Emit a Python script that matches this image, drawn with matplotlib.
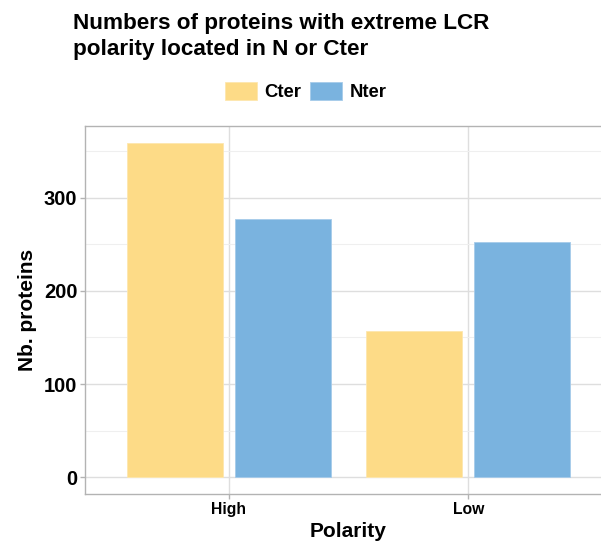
import matplotlib
matplotlib.use("Agg")
import matplotlib.pyplot as plt
from matplotlib.patches import Patch
import numpy as np

categories = ["High", "Low"]
series_names = ["Cter", "Nter"]
cter_values = [359, 157]
nter_values = [277, 253]
y_ticks = [0, 100, 200, 300]

colors = {"Cter": "#FDDB87", "Nter": "#7AB3DF"}
edge_colors = {"Cter": "#FEE7AE", "Nter": "#A6CBEA"}

plt.rcParams['font.family'] = ['Liberation Sans', 'DejaVu Sans']

fig = plt.figure(figsize=(6.01, 5.44), dpi=100)
ax = fig.add_axes([85/601, 1-494/544, (612-85)/601, (494-126)/544])

x = np.arange(1, len(categories)+1)
w = 0.4
off = 0.225
for vals, name, sgn in [(cter_values, "Cter", -1), (nter_values, "Nter", 1)]:
    ax.bar(x + sgn*off, vals, width=w, color=colors[name],
           edgecolor=edge_colors[name], linewidth=0.6, zorder=3)

ymax = max(max(cter_values), max(nter_values))
ax.set_ylim(-0.05*ymax, 1.05*ymax)
ax.set_xlim(0.4, 2.6)
ax.set_yticks(y_ticks)
ax.set_yticks([50, 150, 250, 350], minor=True)
ax.set_xticks(x)
ax.set_xticklabels(categories, fontsize=11.3, fontweight='bold')
ax.set_yticklabels([str(v) for v in y_ticks], fontsize=14.5, fontweight='bold')
ax.grid(True, which='major', color='#DEDEDE', linewidth=1.0, zorder=0)
ax.grid(True, which='minor', color='#EFEFEF', linewidth=0.8, zorder=0)
ax.set_axisbelow(True)
for s in ax.spines.values():
    s.set_color('#B3B3B3')
    s.set_linewidth(1.0)
ax.tick_params(axis='both', which='major', color='#B3B3B3', length=3.5, width=1.0, pad=2)
ax.tick_params(axis='both', which='minor', length=0)

ax.set_xlabel("Polarity", fontsize=15, fontweight='bold', labelpad=4)
ax.set_ylabel("Nb. proteins", fontsize=15, fontweight='bold', labelpad=5)

fig.text(73/601, 1-13/544, "Numbers of proteins with extreme LCR\npolarity located in N or Cter",
         fontsize=16.2, fontweight='bold', ha='left', va='top', linespacing=1.32)

handles = [Patch(facecolor=colors[n], edgecolor=edge_colors[n], linewidth=0.6, label=n) for n in series_names]
fig.legend(handles=handles, loc='center', bbox_to_anchor=(305.5/601, 1-91.5/544), ncol=2,
           frameon=False, prop={'size': 13.3, 'weight': 'bold'},
           handlelength=1.75, handleheight=1.15, handletextpad=0.4, columnspacing=0.45,
           borderpad=0, borderaxespad=0)

fig.savefig("out.png", dpi=100)
